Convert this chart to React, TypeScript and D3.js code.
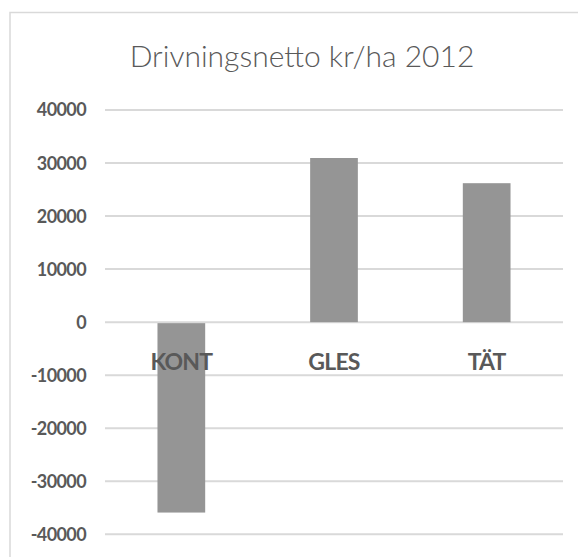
import React from "react";
import * as d3 from "d3";

const categories = ["KONT", "GLES", "TÄT"];
const values = [-35900, 30950, 26200];
const tickValues = [40000, 30000, 20000, 10000, 0, -10000, -20000, -30000, -40000];
const title = "Drivningsnetto kr/ha 2012";

export default function App() {
  const W = 578;
  const H = 557;
  const plotLeft = 105;
  const plotRight = 563;
  const y = d3.scaleLinear().domain([-40000, 40000]).range([534.3, 110]);
  const x = d3.scaleBand<string>().domain(categories).range([plotLeft, plotRight]).padding(0);
  const barW = x.bandwidth() * 0.3125;
  const font = "Lato, 'Open Sans', sans-serif";
  const textColor = "#595959";

  return (
    <svg width={W} height={H} style={{ position: "absolute", left: 0, top: 0, background: "#fff" }}>
      <rect x={0} y={0} width={W} height={H} fill="#fff" />
      <rect x={10} y={12.5} width={W + 20} height={H + 20} fill="#fff" stroke="#d9d9d9" strokeWidth={1.5} />
      <text x={302} y={67} textAnchor="middle" fontFamily={font} fontWeight={300} fontSize={30} fill={textColor}>
        {title}
      </text>
      {tickValues.map((t) => (
        <g key={t}>
          <line x1={plotLeft} x2={plotRight} y1={y(t)} y2={y(t)} stroke="#d9d9d9" strokeWidth={2} />
          <text x={86} y={y(t)} dy="0.36em" textAnchor="end" fontFamily={font} fontWeight={700} fontSize={18} fill={textColor} letterSpacing={-0.6}>
            {String(t)}
          </text>
        </g>
      ))}
      {categories.map((c, i) => {
        const v = values[i];
        const cx = (x(c) as number) + x.bandwidth() / 2;
        const y0 = y(0);
        const y1 = y(v);
        return (
          <rect key={c} x={cx - barW / 2} y={Math.min(y0, y1) + (v < 0 ? 1 : 0)} width={barW} height={Math.abs(y1 - y0) - (v < 0 ? 1 : 0)} fill="#959595" />
        );
      })}
      {categories.map((c) => {
        const cx = (x(c) as number) + x.bandwidth() / 2;
        return (
          <text key={c} x={cx} y={369.5} textAnchor="middle" fontFamily={font} fontWeight={700} fontSize={23} fill={textColor} letterSpacing={-0.8}>
            {c}
          </text>
        );
      })}
    </svg>
  );
}
